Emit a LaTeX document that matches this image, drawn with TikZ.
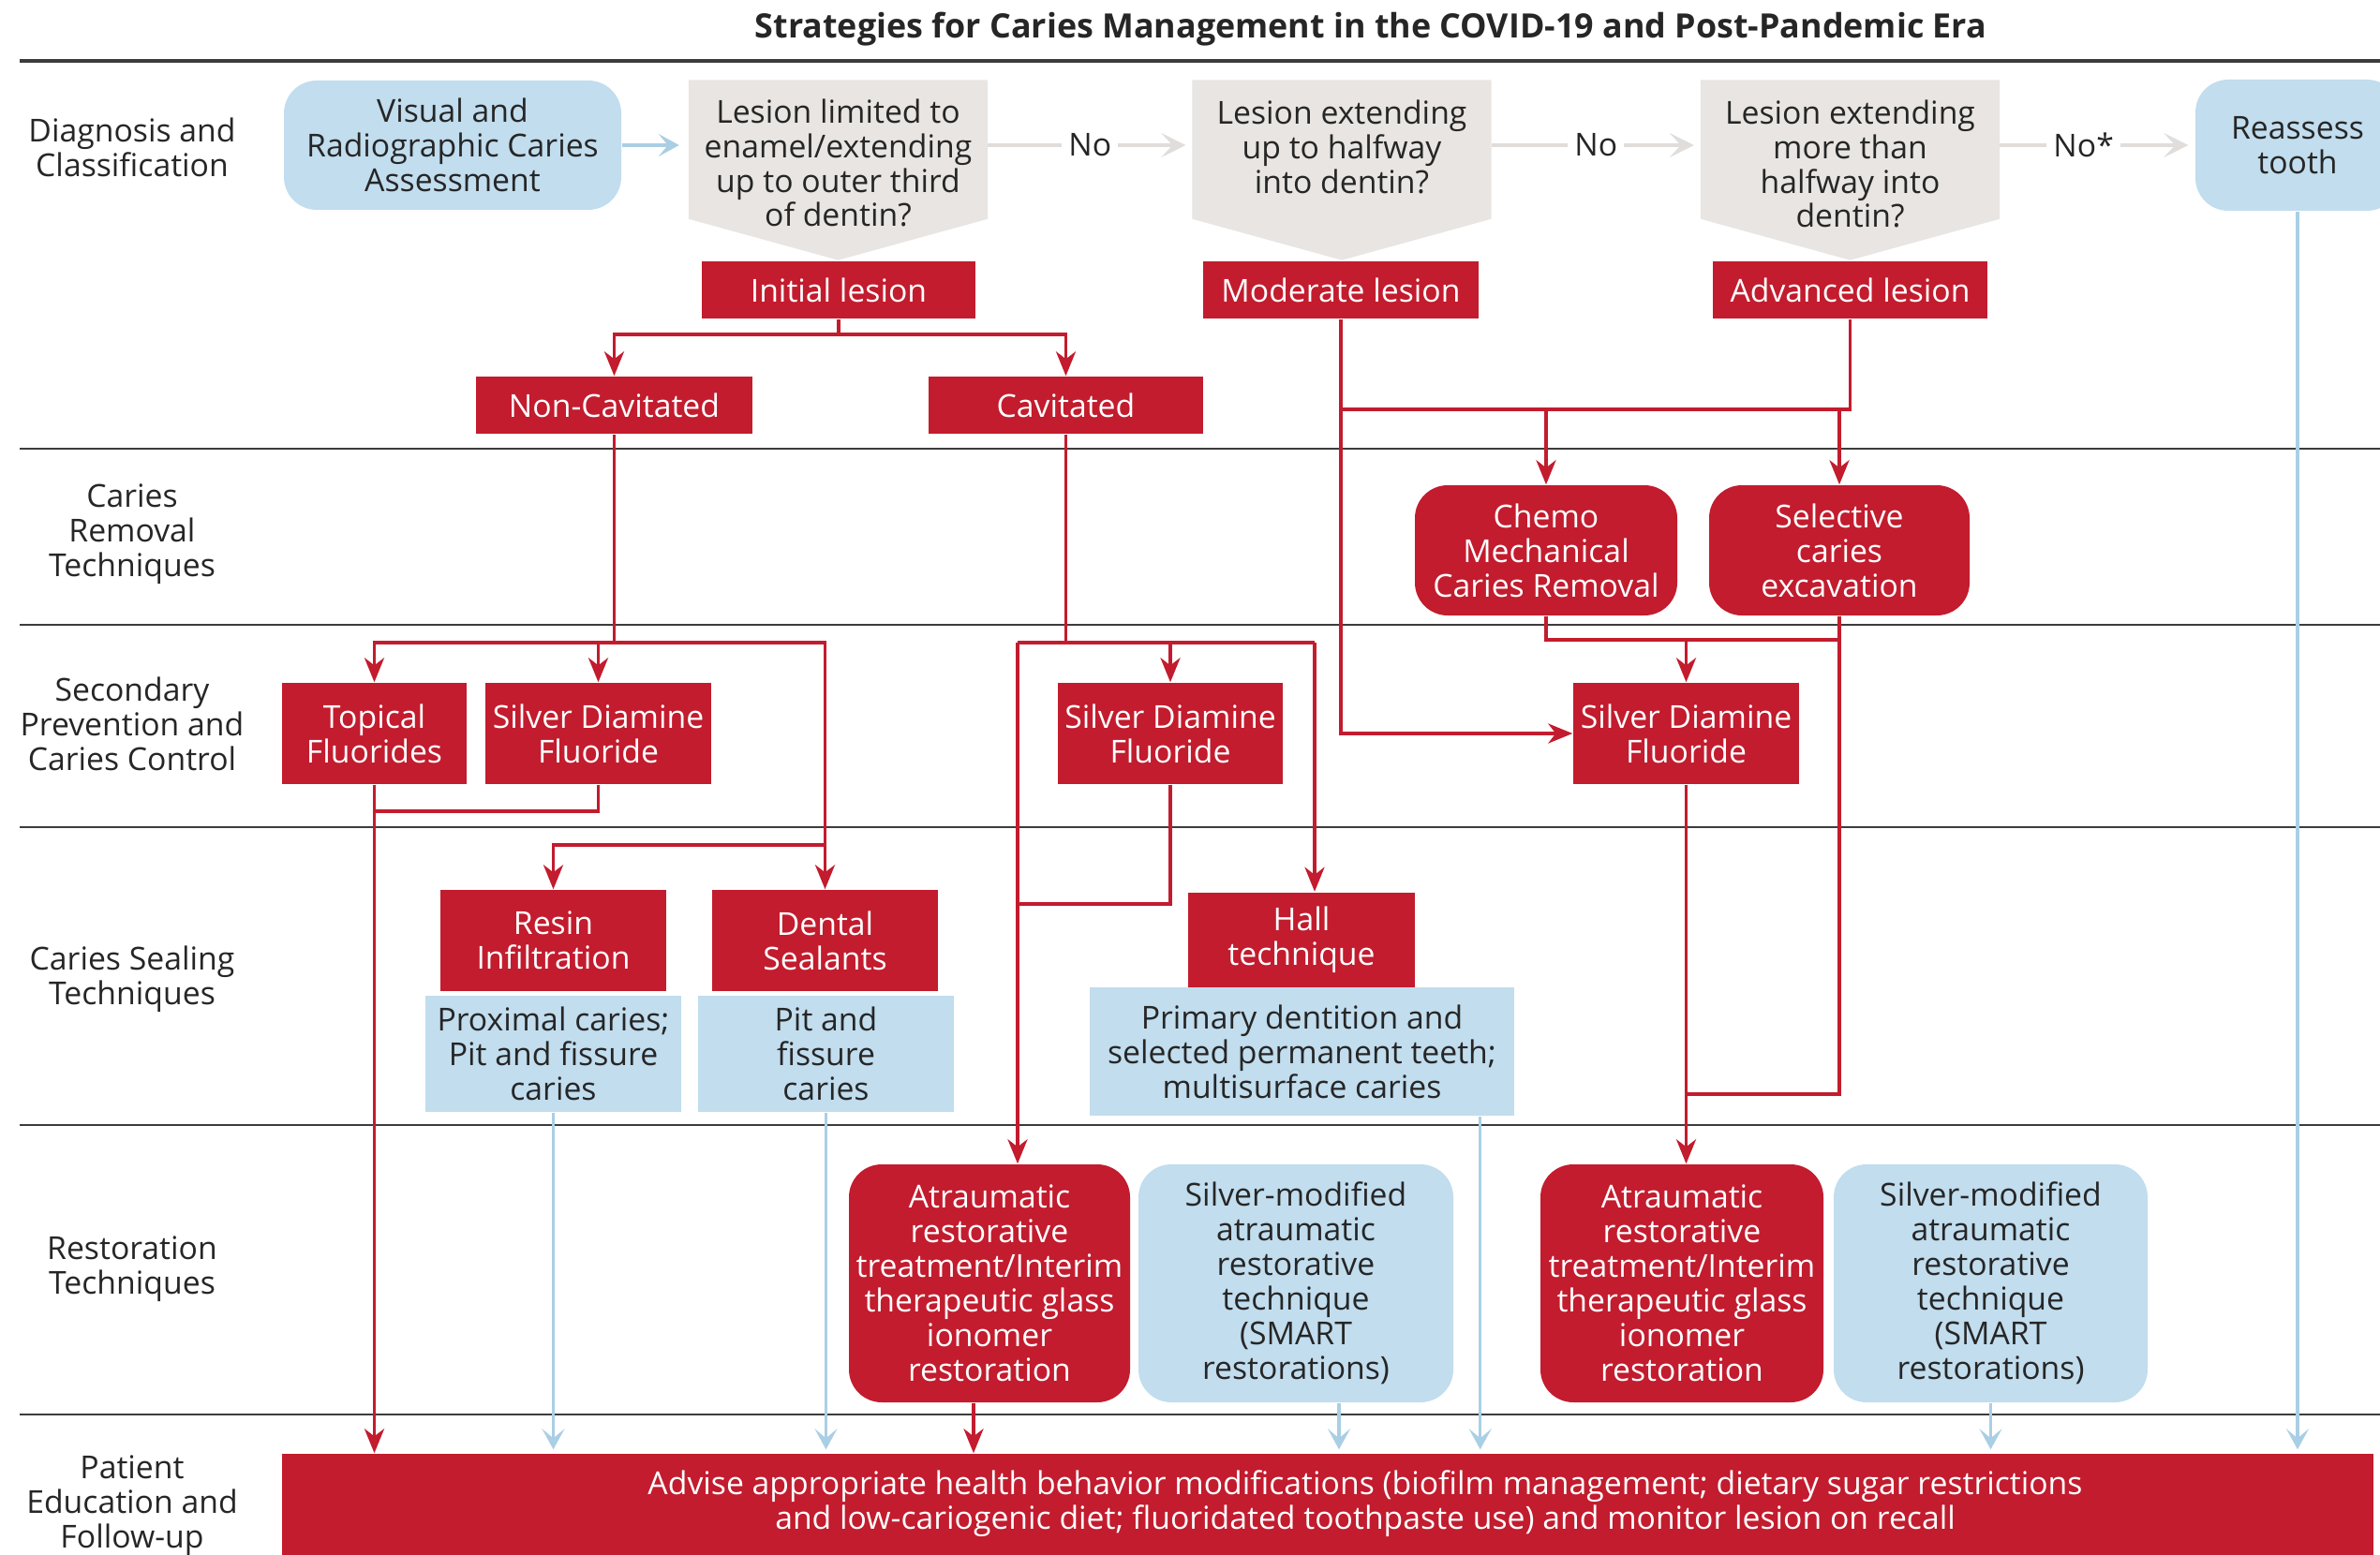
\documentclass[tikz,border=0pt]{standalone}
\usepackage{fontspec}
\setmainfont{Open Sans}
\usetikzlibrary{arrows.meta}
\definecolor{cred}{RGB}{194,28,46}
\definecolor{cblue}{RGB}{193,221,238}
\definecolor{cblueline}{RGB}{170,207,228}
\definecolor{cgray}{RGB}{232,229,226}
\definecolor{cgrayline}{RGB}{224,221,218}
\definecolor{ctext}{RGB}{38,38,38}
\definecolor{csep}{RGB}{60,60,60}
\tikzset{
    sz/.style 2 args={minimum width=#1cm, minimum height=#2cm},
    lbl/.style={align=center, text=ctext, inner sep=0pt},
    redbox/.style={fill=cred, text=white, align=center, inner sep=0pt},
    bluebox/.style={fill=cblue, text=ctext, align=center, inner sep=0pt},
    qbox/.style={inner sep=0pt, sz={3.18}{1.47}},
    round/.style={rounded corners=0.35cm},
    sep/.style={csep, line width=0.8pt},
    redline/.style={cred, line width=1.1pt},
    redarrow/.style={redline, -{Stealth[length=0.26cm, width=0.21cm, inset=0.08cm]}},
    bluearrow/.style={cblueline, line width=0.9pt, shorten >=0.04cm, -{Stealth[length=0.22cm, width=0.24cm, inset=0.1cm]}},
    noarrow/.style={cgrayline, line width=1.2pt, shorten >=0.07cm, -{Stealth[length=0.26cm, width=0.26cm, inset=0.12cm]}},
    nolbl/.style={fill=white, text=ctext, inner sep=0.07cm}
}
\begin{document}
\begin{tikzpicture}[font=\fontsize{9.6}{10.5}\selectfont]
    \useasboundingbox (0, 0) rectangle (25.40, -16.60);

    \draw[sep, line width=1.3pt] (0.21, -0.65) -- (25.40, -0.65);
    \foreach \y in {-4.79, -6.67, -8.83, -12.01, -15.10}
        \draw[sep] (0.21, \y) -- (25.40, \y);

    \node[lbl, font=\fontsize{10.2}{11}\selectfont\bfseries] (title) at(14.63, -0.31){Strategies for Caries Management in the COVID-19 and Post-Pandemic Era};

    \node[lbl] (lab1) at(1.41, -1.57){Diagnosis and\\Classification};
    \node[lbl] (lab2) at(1.41, -5.70){Caries\\Removal\\Techniques};
    \node[lbl] (lab3) at(1.41, -7.73){Secondary\\Prevention and\\Caries Control};
    \node[lbl] (lab4) at(1.41, -10.45){Caries Sealing\\Techniques};
    \node[lbl] (lab5) at(1.41, -13.55){Restoration\\Techniques};
    \node[lbl] (lab6) at(1.41, -16.07){Patient\\Education and\\Follow-up};

        \node[bluebox, round, sz={3.60}{1.38}] (assess) at(4.83, -1.55){Visual and\\Radiographic Caries\\Assessment};
        \node[qbox] (q1) at(8.945, -1.595){};
        \node[qbox] (q2) at(14.32, -1.595){};
        \node[qbox] (q3) at(19.745, -1.595){};
        \foreach \q in {q1, q2, q3}
            \fill[cgray] (\q.north west) -- (\q.north east) -- (\q.south east) -- ([yshift=-0.44cm]\q.south) -- (\q.south west) -- cycle;
        \node[lbl] (q1txt) at(8.945, -1.74){Lesion limited to\\enamel/extending\\up to outer third\\of dentin?};
        \node[lbl] (q2txt) at(14.32, -1.57){Lesion extending\\up to halfway\\into dentin?};
        \node[lbl] (q3txt) at(19.745, -1.75){Lesion extending\\more than\\halfway into\\dentin?};
        \node[bluebox, round, sz={2.18}{1.40}] (reassess) at(24.52, -1.55){Reassess\\tooth};

        \node[redbox, sz={2.92}{0.61}] (initial) at(8.95, -3.095){Initial lesion};
        \node[redbox, sz={2.94}{0.61}] (moderate) at(14.31, -3.095){Moderate lesion};
        \node[redbox, sz={2.93}{0.61}] (advanced) at(19.745, -3.095){Advanced lesion};
        \node[redbox, sz={2.95}{0.61}] (noncav) at(6.555, -4.325){Non-Cavitated};
        \node[redbox, sz={2.93}{0.61}] (cav) at(11.375, -4.325){Cavitated};

        \node[redbox, round, sz={2.80}{1.39}] (chemo) at(16.50, -5.875){Chemo\\Mechanical\\Caries Removal};
        \node[redbox, round, sz={2.78}{1.39}] (select) at(19.63, -5.875){Selective\\caries\\excavation};

        \node[redbox, sz={1.97}{1.08}] (topical) at(3.995, -7.83){Topical\\Fluorides};
        \node[redbox, sz={2.41}{1.08}] (sdfa) at(6.385, -7.83){Silver Diamine\\Fluoride};
        \node[redbox, sz={2.40}{1.08}] (sdfb) at(12.49, -7.83){Silver Diamine\\Fluoride};
        \node[redbox, sz={2.41}{1.08}] (sdfc) at(17.995, -7.83){Silver Diamine\\Fluoride};

        \node[redbox, sz={2.41}{1.08}] (resin) at(5.905, -10.04){Resin\\Infiltration};
        \node[redbox, sz={2.41}{1.08}] (sealant) at(8.805, -10.04){Dental\\Sealants};
        \node[redbox, sz={2.42}{1.01}] (hall) at(13.89, -10.03){Hall\\technique};
        \node[bluebox, sz={2.73}{1.24}] (proxblue) at(5.905, -11.25){Proximal caries;\\Pit and fissure\\caries};
        \node[bluebox, sz={2.73}{1.24}] (pitblue) at(8.815, -11.25){Pit and\\fissure\\caries};
        \node[bluebox, sz={4.53}{1.37}] (hallblue) at(13.895, -11.225){Primary dentition and\\selected permanent teeth;\\multisurface caries};

        \node[redbox, round, sz={3.00}{2.54}] (atra) at(10.56, -13.70){Atraumatic\\restorative\\treatment/Interim\\therapeutic glass\\ionomer\\restoration};
        \node[bluebox, round, sz={3.36}{2.54}] (smarta) at(13.83, -13.70){Silver-modified\\atraumatic\\restorative\\technique\\(SMART\\restorations)};
        \node[redbox, round, sz={3.02}{2.54}] (atrb) at(17.95, -13.70){Atraumatic\\restorative\\treatment/Interim\\therapeutic glass\\ionomer\\restoration};
        \node[bluebox, round, sz={3.35}{2.54}] (smartb) at(21.245, -13.70){Silver-modified\\atraumatic\\restorative\\technique\\(SMART\\restorations)};

        \node[redbox, sz={22.32}{1.28}] (bar) at(14.17, -16.16){};
        \node[lbl, text=white] (advise) at(14.57, -16.05){Advise appropriate health behavior modifications (biofilm management; dietary sugar restrictions\\and low-cariogenic diet; fluoridated toothpaste use) and monitor lesion on recall};

    \coordinate (initsplit) at(8.95, -3.57);
    \coordinate (ncsplit) at(6.555, -6.86);
    \coordinate (ncseal) at(8.805, -9.02);
    \coordinate (cavsplit) at(11.375, -6.86);
    \coordinate (cavleft) at(10.86, -6.86);
    \coordinate (cavright) at(14.03, -6.86);
    \coordinate (sdfbjoin) at(10.86, -9.65);
    \coordinate (topjoin) at(3.995, -8.66);
    \coordinate (lesjoin) at(14.31, -4.37);
    \coordinate (crjoin) at(19.63, -6.83);
    \coordinate (atrbjoin) at(17.995, -11.68);

    \draw[bluearrow, shorten >=0.1cm] (assess) -- (q1.west |- assess);
    \draw[noarrow] (q1.east |- assess) -- node[nolbl]{No} (q2.west |- assess);
    \draw[noarrow] (q2.east |- assess) -- node[nolbl]{No} (q3.west |- assess);
    \draw[noarrow] (q3.east |- assess) -- node[nolbl, pos=0.43]{No*} (reassess.west);

    \draw[redline] (initial) -- (initsplit);
    \draw[redarrow] (initsplit) -| (noncav);
    \draw[redarrow] (initsplit) -| (cav);

    \draw[redline] (noncav) -- (ncsplit);
    \draw[redarrow] (ncsplit) -| (topical);
    \draw[redarrow] (ncsplit) -| (sdfa);
    \draw[redarrow] (ncsplit) -| (sealant);
    \draw[redarrow] (ncseal) -| (resin);
    \draw[redline] (sdfa) |- (topjoin);
    \draw[redarrow] (topical) -- (topical |- bar.north);

    \draw[redline] (cav) -- (cavsplit);
    \draw[redline] (cavleft) -- (cavright);
    \draw[redarrow] (cavsplit) -| (sdfb);
    \draw[redarrow] (cavright) -- (cavright |- hall.north);
    \draw[redarrow] (cavleft) -- (cavleft |- atra.north);
    \draw[redline] (sdfb) |- (sdfbjoin);
    \draw[redarrow] ([xshift=-0.17cm]atra.south) -- ([xshift=-0.17cm]atra.south |- bar.north);

    \draw[redline] (advanced) |- (lesjoin);
    \draw[redarrow] (moderate) |- (sdfc);
    \draw[redarrow] (chemo.north |- lesjoin) -- (chemo);
    \draw[redarrow] (select.north |- lesjoin) -- (select);
    \draw[redline] (chemo) |- (crjoin);
    \draw[redarrow] (sdfc.north |- crjoin) -- (sdfc);
    \draw[redline] (select) |- (atrbjoin);
    \draw[redarrow] (sdfc) -- (sdfc |- atrb.north);

    \draw[bluearrow] (reassess) -- (reassess |- bar.north);
    \draw[bluearrow] (proxblue) -- (proxblue |- bar.north);
    \draw[bluearrow] (pitblue) -- (pitblue |- bar.north);
    \draw[bluearrow] ([xshift=-0.37cm]hallblue.south east) -- ([xshift=-0.37cm]hallblue.south east |- bar.north);
    \draw[bluearrow] ([xshift=0.46cm]smarta.south) -- ([xshift=0.46cm]smarta.south |- bar.north);
    \draw[bluearrow] (smartb) -- (smartb |- bar.north);
\end{tikzpicture}
\end{document}
